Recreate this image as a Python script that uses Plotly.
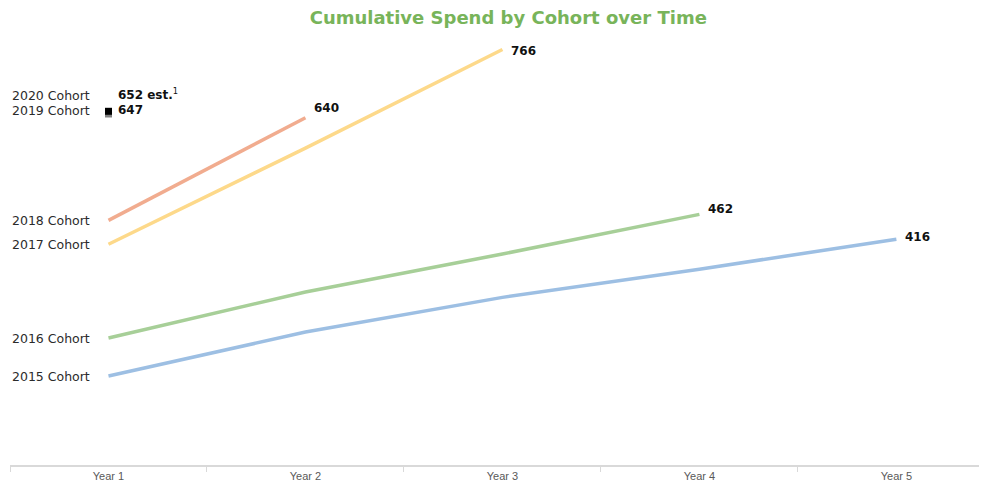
import plotly.graph_objects as go

# chart data
years = ["Year 1", "Year 2", "Year 3", "Year 4", "Year 5"]
cohort_2015 = [164, 245, 309, 361, 416]
cohort_2016 = [234, 319, 389, 462]
cohort_2017 = [407, 584, 766]
cohort_2018 = [451, 640]
cohort_2019 = [647]
cohort_2020 = [652]

# name, values, colour, vertical nudge of the end label
lines = [
    ("2015 Cohort", cohort_2015, "#9dbfe3", 2),
    ("2016 Cohort", cohort_2016, "#a7cf98", 5),
    ("2017 Cohort", cohort_2017, "#fdd98a", -2),
    ("2018 Cohort", cohort_2018, "#f1ac8f", 10),
]

LABEL_FONT = dict(family="DejaVu Sans", size=12.5, color="#2b2b2b")
VALUE_FONT = dict(family="DejaVu Sans", size=12, color="#111111")

fig = go.Figure()
for name, vals, color, _ in lines:
    fig.add_trace(go.Scatter(
        x=years[:len(vals)], y=vals, mode="lines", name=name,
        line=dict(color=color, width=3.5), hoverinfo="x+y+name",
    ))

# single-point cohorts shown as squares
fig.add_trace(go.Scatter(x=years[:1], y=cohort_2019, mode="markers", name="2019 Cohort",
                         marker=dict(symbol="square", size=7, color="#808080")))
fig.add_trace(go.Scatter(x=years[:1], y=cohort_2020, mode="markers", name="2020 Cohort",
                         marker=dict(symbol="square", size=7, color="#000000")))

# cohort names at the left, end values at the right
for name, vals, color, dy in lines:
    fig.add_annotation(x=years[0], y=vals[0], text=name, showarrow=False,
                       xanchor="right", xshift=-16, font=LABEL_FONT)
    fig.add_annotation(x=years[len(vals) - 1], y=vals[-1], text=f"<b>{vals[-1]}</b>",
                       showarrow=False, xanchor="left", xshift=7, yshift=dy, font=VALUE_FONT)

# the last two cohorts sit close together, so nudge their labels apart
for name, vals, dy in [("2020 Cohort", cohort_2020, 16), ("2019 Cohort", cohort_2019, 4)]:
    fig.add_annotation(x=years[0], y=vals[0], text=name, showarrow=False,
                       xanchor="right", xshift=-16, yshift=dy, font=LABEL_FONT)
fig.add_annotation(x=years[0], y=cohort_2020[0], text=f"<b>{cohort_2020[0]} est.</b><sup>1</sup>",
                   showarrow=False, xanchor="left", xshift=8, yshift=17, font=VALUE_FONT)
fig.add_annotation(x=years[0], y=cohort_2019[0], text=f"<b>{cohort_2019[0]}</b>",
                   showarrow=False, xanchor="left", xshift=8, yshift=4, font=VALUE_FONT)

fig.update_layout(
    width=979, height=480,
    margin=dict(l=2, r=0, t=23, b=23),
    plot_bgcolor="white", paper_bgcolor="white",
    showlegend=False,
    title=dict(text="<b>Cumulative Spend by Cohort over Time</b>",
               x=0.511, xanchor="center", y=0.979, yanchor="middle",
               font=dict(family="DejaVu Sans", size=18, color="#78b45a")),
    xaxis=dict(
        type="category", range=[-0.5, 4.46],
        tickson="boundaries", ticks="outside", ticklen=5, tickcolor="#d9d9d9",
        showline=True, linecolor="#d9d9d9", linewidth=1.5,
        showgrid=False, zeroline=False,
        tickfont=dict(family="Liberation Sans Narrow, Arial Narrow, sans-serif", size=11, color="#595959"),
    ),
    yaxis=dict(range=[0, 800], visible=False, showgrid=False, zeroline=False),
)

fig.write_html("out.html")
